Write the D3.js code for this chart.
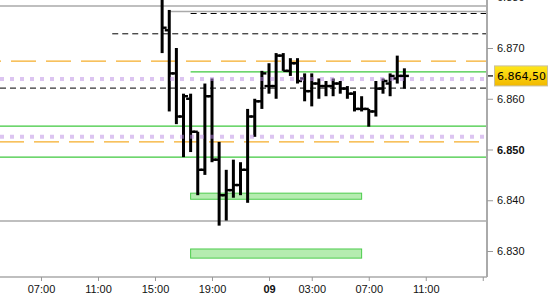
<!DOCTYPE html>
<html>
<head>
<meta charset="utf-8">
<script src="https://cdn.jsdelivr.net/npm/d3@7"></script>
<style>
  html, body { margin: 0; padding: 0; background: #fff; }
  svg { display: block; font-family: "DejaVu Sans", Verdana, sans-serif; }
</style>
</head>
<body>
<div id="chart"></div>
<script>
// 30-minute OHLC bars, first bar at slot 25 (15:30)
const firstSlot = 25;
const opens  = [6880.5, 6873.5, 6865.0, 6856.5, 6860.0, 6853.5, 6846.0, 6860.5, 6848.0, 6841.0, 6842.0, 6843.0, 6846.0, 6856.5, 6859.5, 6862.5, 6862.5, 6868.5, 6865.5, 6867.0, 6864.0, 6861.5, 6863.0, 6862.5, 6862.5, 6863.0, 6862.0, 6861.0, 6858.0, 6858.0, 6857.5, 6862.0, 6863.0, 6864.0, 6864.5];
const highs  = [6881.5, 6877.5, 6870.0, 6861.0, 6861.0, 6853.5, 6863.0, 6864.0, 6851.5, 6846.0, 6848.0, 6847.5, 6858.0, 6860.0, 6865.5, 6867.0, 6869.0, 6869.0, 6868.0, 6868.0, 6865.0, 6865.0, 6864.0, 6863.5, 6864.0, 6863.5, 6862.5, 6861.5, 6860.5, 6858.0, 6863.5, 6864.0, 6865.0, 6868.5, 6866.0];
const lows   = [6869.0, 6857.5, 6855.0, 6848.5, 6849.5, 6841.0, 6845.0, 6847.5, 6835.0, 6836.0, 6840.5, 6841.0, 6839.5, 6852.5, 6858.0, 6861.0, 6860.0, 6865.5, 6864.5, 6863.0, 6859.5, 6858.5, 6860.0, 6860.5, 6860.5, 6861.0, 6860.0, 6857.5, 6857.5, 6854.5, 6856.5, 6861.0, 6860.5, 6863.0, 6862.0];
const closes = [6874.0, 6865.0, 6856.5, 6860.5, 6853.5, 6846.0, 6860.5, 6848.0, 6841.0, 6842.0, 6843.0, 6846.0, 6856.5, 6859.5, 6865.0, 6862.5, 6868.5, 6865.5, 6867.0, 6863.5, 6861.5, 6863.0, 6862.5, 6862.5, 6863.0, 6862.0, 6861.0, 6858.0, 6858.0, 6857.5, 6862.0, 6863.5, 6864.5, 6864.5, 6864.5];

// horizontal levels
const levelPrices = [6878.3, 6877.2, 6876.8, 6872.8, 6867.4, 6865.3, 6863.9, 6862.1, 6854.6, 6852.5, 6851.5, 6848.5, 6835.9];
const levelKinds  = ["gray", "gray", "dash", "dash", "orange", "green", "purple", "dash", "green", "purple", "orange", "green", "gray"];
const levelStart  = [null, 26, 29, 18, null, 29, null, null, null, null, null, null, null];

// zones
const zoneLow   = [6840.2, 6828.6];
const zoneHigh  = [6841.4, 6830.4];
const zoneStart = [29, 29];
const zoneEnd   = [53, 53];

// axes
const yTicks = [6830, 6840, 6850, 6860, 6870, 6880];
const xTickSlots  = [0, 8, 16, 24, 32, 40, 46, 54, 62, 70];
const xTickLabels = ["03:00", "07:00", "11:00", "15:00", "19:00", "09", "03:00", "07:00", "11:00", ""];

const W = 550, H = 300;
const plotR = 487, plotB = 277;

const svg = d3.select("#chart").append("svg")
    .attr("width", W).attr("height", H);

const x = d3.scaleLinear().domain([2.246, 70.596]).range([0, plotR]);
const y = d3.scaleLinear().domain([6824.88, 6879.46]).range([plotB, 0]);

const loc = d3.formatLocale({ decimal: ",", thousands: ".", grouping: [3], currency: ["", ""] });
const fmtTick = loc.format(",.0f");
const fmtPrice = loc.format(",.2f");

svg.append("defs").append("clipPath").attr("id", "plot")
    .append("rect").attr("x", 0).attr("y", 0).attr("width", plotR).attr("height", plotB);

const plot = svg.append("g").attr("clip-path", "url(#plot)");

// level lines (all but purple go under the bars)
const levels = levelPrices.map((p, i) => ({ p, kind: levelKinds[i], start: levelStart[i] }));
const styles = {
    gray:   { stroke: "#aaaaaa", w: 1.5, dash: null },
    dash:   { stroke: "#000", w: 1, dash: "6,4" },
    orange: { stroke: "#f5ad2a", w: 1.2, dash: "25,10" },
    green:  { stroke: "#3ec83e", w: 1.4, dash: null },
    purple: { stroke: "#b98ae4", w: 4, dash: "4,6", op: 0.5 }
};

function drawLevels(g, list) {
    g.selectAll("line.lvl").data(list).enter().append("line")
        .attr("class", "lvl")
        .attr("x1", d => d.start == null ? 0 : x(d.start))
        .attr("x2", plotR)
        .attr("y1", d => y(d.p)).attr("y2", d => y(d.p))
        .attr("stroke", d => styles[d.kind].stroke)
        .attr("stroke-width", d => styles[d.kind].w)
        .attr("stroke-dasharray", d => styles[d.kind].dash)
        .attr("stroke-dashoffset", d => d.kind === "orange" ? (d.p > 6860 ? 24 : 1) : 0)
        .attr("stroke-opacity", d => styles[d.kind].op || 1);
}

drawLevels(plot.append("g"), levels.filter(d => d.kind !== "purple"));

// zones
plot.selectAll("rect.zone").data(zoneLow).enter().append("rect")
    .attr("class", "zone")
    .attr("x", (d, i) => x(zoneStart[i]))
    .attr("width", (d, i) => x(zoneEnd[i]) - x(zoneStart[i]))
    .attr("y", (d, i) => y(zoneHigh[i]))
    .attr("height", (d, i) => y(zoneLow[i]) - y(zoneHigh[i]))
    .attr("fill", "#b5ecb0")
    .attr("stroke", "#4ccc4c")
    .attr("stroke-width", 1);

// OHLC bars
const bars = opens.map((o, i) => ({ slot: firstSlot + i, o, h: highs[i], l: lows[i], c: closes[i] }));
const bg = plot.append("g").attr("stroke", "#000");
bars.forEach(d => {
    const cx = x(d.slot);
    bg.append("line").attr("x1", cx).attr("x2", cx).attr("y1", y(d.h)).attr("y2", y(d.l)).attr("stroke-width", 3);
    bg.append("line").attr("x1", cx - 4.5).attr("x2", cx).attr("y1", y(d.o)).attr("y2", y(d.o)).attr("stroke-width", 2.4);
    bg.append("line").attr("x1", cx).attr("x2", cx + 4.5).attr("y1", y(d.c)).attr("y2", y(d.c)).attr("stroke-width", 2.4);
});

// purple dotted levels on top
drawLevels(plot.append("g"), levels.filter(d => d.kind === "purple"));

// right axis
const yAxis = svg.append("g").attr("transform", `translate(${plotR},0)`)
    .call(d3.axisRight(y).tickValues(yTicks).tickFormat(fmtTick).tickSize(6).tickPadding(4));
yAxis.select(".domain").attr("stroke", "#aaaaaa").attr("stroke-width", 2).attr("d", `M0,0V${plotB}`);
yAxis.selectAll(".tick line").attr("stroke", "#999");
yAxis.selectAll(".tick text")
    .attr("fill", "#111").style("font-size", "11px")
    .style("font-weight", d => d === 6850 ? "bold" : "normal");

// bottom axis
const xAxis = svg.append("g").attr("transform", `translate(0,${plotB})`)
    .call(d3.axisBottom(x).tickValues(xTickSlots).tickFormat((d, i) => xTickLabels[i]).tickSize(4).tickPadding(4));
xAxis.select(".domain").attr("stroke", "#aaaaaa").attr("stroke-width", 1.5).attr("d", `M0,0H${plotR}`);
xAxis.selectAll(".tick line").attr("stroke", "#999");
xAxis.selectAll(".tick text")
    .attr("fill", "#111").style("font-size", "11px")
    .style("font-weight", (d, i) => xTickLabels[i] === "09" ? "bold" : "normal");

// last price label
const last = closes[closes.length - 1];
const grad = svg.select("defs").append("linearGradient")
    .attr("id", "gold").attr("x1", 0).attr("y1", 0).attr("x2", 0).attr("y2", 1);
grad.append("stop").attr("offset", "0%").attr("stop-color", "#ffe81a");
grad.append("stop").attr("offset", "100%").attr("stop-color", "#f2b800");

svg.append("line")
    .attr("x1", plotR + 1).attr("x2", plotR + 6)
    .attr("y1", y(last)).attr("y2", y(last))
    .attr("stroke", "#000").attr("stroke-width", 1.2);
svg.append("rect")
    .attr("x", 494.5).attr("y", y(last) - 10)
    .attr("width", 53).attr("height", 20)
    .attr("fill", "url(#gold)")
    .attr("stroke", "#c8c0a0").attr("stroke-width", 1);
svg.append("text")
    .attr("x", 497).attr("y", y(last)).attr("dy", "0.35em")
    .style("font-size", "11px").attr("fill", "#000")
    .text(fmtPrice(last));
</script>
</body>
</html>
